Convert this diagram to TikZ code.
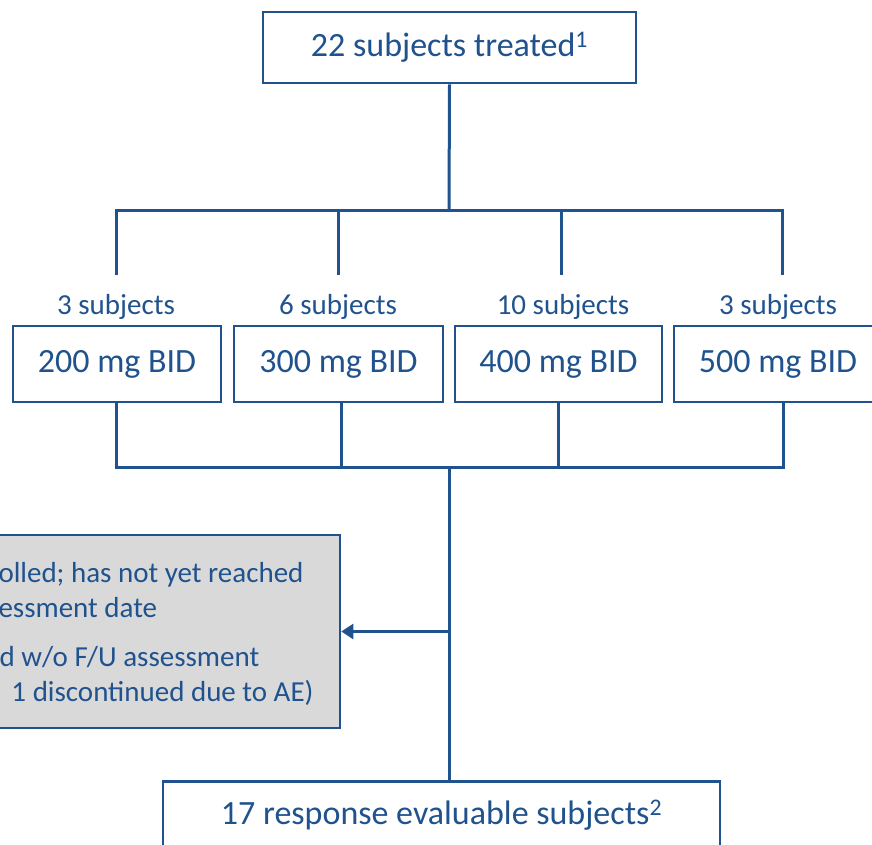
\documentclass[tikz,border=0pt]{standalone}
\usepackage{fontspec}
\setmainfont{Carlito}
\usetikzlibrary{arrows.meta}
\definecolor{flowblue}{RGB}{32,82,142}
\definecolor{boxgray}{RGB}{217,217,217}

\begin{document}
\begin{tikzpicture}[x=1pt, y=-1pt, line width=3pt, flowblue,
  box/.style={draw=flowblue, line width=2.6pt, fill=white, inner sep=0pt,
    text=flowblue, font=\fontsize{34}{40}\selectfont},
  arm/.style={text=flowblue, inner sep=0pt, font=\fontsize{29}{35}\selectfont},
  note/.style={text=flowblue, inner sep=0pt, align=left, anchor=west,
    font=\fontsize{29}{35}\selectfont}]

  \useasboundingbox (0,0) rectangle (872,844);
  \clip (0,0) rectangle (872,844);

  % split and join points
  \coordinate (split) at (449,210);
  \coordinate (join)  at (449,467);
  \coordinate (exit)  at (449,631.5);
  \coordinate (u200) at (116,210);  \coordinate (a200) at (116,275);
  \coordinate (u300) at (338,210);  \coordinate (a300) at (338,275);
  \coordinate (u400) at (561,210);  \coordinate (a400) at (561,275);
  \coordinate (u500) at (782,210);  \coordinate (a500) at (782,275);
  \coordinate (l200) at (116,467);
  \coordinate (l300) at (341,467);
  \coordinate (l400) at (558,467);
  \coordinate (l500) at (783,467);

  \node[box, minimum width=373pt, minimum height=71pt] (treated) at (449.5,47.5)
    {22 subjects treated\textsuperscript{1}};

  % dose arms
  \node[arm] (n200) at (116,307) {3 subjects};
  \node[arm] (n300) at (338,307) {6 subjects};
  \node[arm] (n400) at (563,307) {10 subjects};
  \node[arm] (n500) at (778,307) {3 subjects};

  \node[box, minimum width=208pt, minimum height=76pt] (d200) at (117,364) {200 mg BID};
  \node[box, minimum width=209pt, minimum height=76pt] (d300) at (338.5,364) {300 mg BID};
  \node[box, minimum width=207pt, minimum height=76pt] (d400) at (558.5,364) {400 mg BID};
  \node[box, minimum width=208pt, minimum height=76pt] (d500) at (778,364) {500 mg BID};

  \draw (treated.south) -- (split);
  \draw (a200) -- (u200) -- (u500) -- (a500);
  \draw (u300) -- (a300);
  \draw (u400) -- (a400);

  \draw (l200 |- d200.south) -- (l200) -- (l500) -- (l500 |- d500.south);
  \draw (l300 |- d300.south) -- (l300);
  \draw (l400 |- d400.south) -- (l400);

  % not evaluable
  \node[draw=flowblue, line width=2.6pt, fill=boxgray, minimum width=360pt,
    minimum height=193pt, inner sep=0pt] (dropped) at (160,631.5) {};
  \node[note] (pending) at (-3,590.5) {olled; has not yet reached\\essment date};
  \node[note] (nofu) at (-2,675.5)
    {d w/o F/U assessment\\\hspace*{12pt}1 discontinued due to AE)};

  \node[box, minimum width=557pt, minimum height=68pt, anchor=north] (evaluable)
    at (441.5,780) {17 response evaluable subjects\textsuperscript{2}};

  \draw (join) -- (join |- evaluable.north);
  \draw[line width=2.6pt, -{Triangle[length=12pt, width=15pt]}] (exit) -- (dropped.east);
\end{tikzpicture}
\end{document}
